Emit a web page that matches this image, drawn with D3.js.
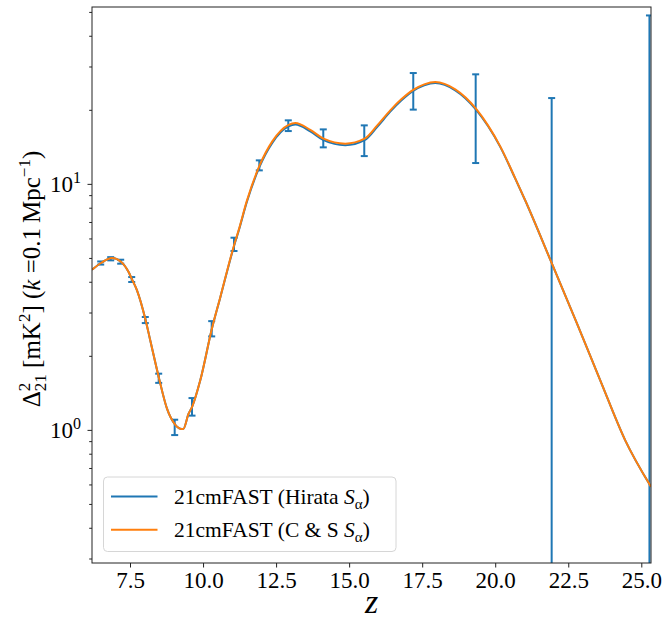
<!DOCTYPE html>
<html>
<head>
<meta charset="utf-8">
<script src="https://cdn.jsdelivr.net/npm/d3@7"></script>
<style>
body { margin: 0; background: #fff; }
text { font-family: "Liberation Serif", "Times New Roman", serif; fill: #000; }
</style>
</head>
<body>
<script>
// model power spectrum at k = 0.1 Mpc^-1, sampled in z
var curveZ = [6.199, 6.507, 6.883, 7.191, 7.452, 7.568, 7.739, 8.033, 8.194, 8.492,
              8.766, 9.039, 9.221, 9.323, 9.505, 9.632, 9.905, 10.306, 10.590, 11.069,
              11.216, 11.504, 11.935, 12.370, 12.927, 13.157, 13.670, 14.125, 14.868, 15.528,
              15.963, 16.408, 16.784, 17.205, 17.571, 17.948, 18.632, 19.341, 19.752, 20.172,
              20.686, 21.028, 21.942, 22.797, 23.595, 24.450, 25.332];
var csVals = [4.50, 4.79, 5.02, 4.85, 4.40, 4.11, 3.71, 2.81, 2.32, 1.63,
              1.225, 1.058, 1.016, 1.014, 1.169, 1.252, 1.597, 2.60, 3.48, 5.70,
              6.50, 8.61, 11.95, 14.96, 17.46, 17.76, 16.65, 15.34, 14.64, 15.34,
              17.37, 20.0, 22.16, 24.27, 25.50, 26.06, 24.33, 20.31, 17.37, 14.27,
              10.58, 8.61, 4.76, 2.72, 1.597, 0.911, 0.59];
var hirataVals = [4.50, 4.79, 5.02, 4.85, 4.40, 4.11, 3.71, 2.81, 2.32, 1.63,
              1.225, 1.058, 1.016, 1.014, 1.169, 1.252, 1.597, 2.60, 3.47, 5.66,
              6.45, 8.52, 11.80, 14.75, 17.20, 17.50, 16.42, 15.12, 14.42, 15.12,
              17.14, 19.75, 21.90, 24.02, 25.25, 25.82, 24.12, 20.15, 17.26, 14.20,
              10.55, 8.60, 4.76, 2.72, 1.597, 0.911, 0.59];

// noise error bars (Hirata)
var errZ  = [6.497, 6.839, 7.181, 7.558, 8.023, 8.482, 9.029, 9.622, 10.296, 11.059,
             11.925, 12.917, 14.115, 15.518, 17.195, 19.331, 21.932, 25.279];
var errLo = [4.72, 4.91, 4.76, 4.01, 2.73, 1.56, 0.957, 1.148, 2.41, 5.36,
             11.40, 16.47, 14.14, 13.03, 20.13, 12.21, 0.05, 0.05];
var errHi = [4.86, 5.06, 4.94, 4.20, 2.89, 1.70, 1.105, 1.353, 2.78, 6.07,
             12.52, 18.21, 16.73, 17.37, 28.35, 28.01, 22.43, 48.6];

var xTicks = [7.5, 10, 12.5, 15, 17.5, 20, 22.5, 25];
var yMajor = [1, 10];
var yMajorExp = ["0", "1"];
var yMinor = [0.3, 0.4, 0.5, 0.6, 0.7, 0.8, 0.9, 2, 3, 4, 5, 6, 7, 8, 9, 20, 30, 40, 50];

var legendNames = ["21cmFAST (Hirata ", "21cmFAST (C & S "];
var colors = ["#1f77b4", "#ff7f0e"];

var height  = 625,
    width   = 662,
    margin = {top: 7, right: 11, bottom: 62, left: 92};

width -= margin.left + margin.right;
height -= margin.top + margin.bottom;

var svg = d3.select('body').append("svg")
    .attr("width",  width + margin.left + margin.right)
    .attr("height", height + margin.top + margin.bottom)
    .append("g")
    .attr("transform", "translate(" + margin.left + "," + margin.top + ")");

var x = d3.scaleLinear().domain([6.199, 25.332]).range([0, width]);
var y = d3.scaleLog().domain([0.289, 52.6]).range([height, 0]);

svg.append("clipPath").attr("id", "plotclip")
    .append("rect").attr("width", width).attr("height", height);

var plot = svg.append("g").attr("clip-path", "url(#plotclip)");

// error bars
var bars = plot.selectAll(".ebar").data(errZ).enter().append("g").attr("class", "ebar")
    .style("stroke", colors[0]).style("stroke-width", "2px");
bars.append("line")
    .attr("x1", function(d) { return x(d); })
    .attr("x2", function(d) { return x(d); })
    .attr("y1", function(d, i) { return y(errLo[i]); })
    .attr("y2", function(d, i) { return y(errHi[i]); });
bars.append("line")
    .attr("x1", function(d) { return x(d) - 3.5; })
    .attr("x2", function(d) { return x(d) + 3.5; })
    .attr("y1", function(d, i) { return y(errHi[i]); })
    .attr("y2", function(d, i) { return y(errHi[i]); });
bars.append("line")
    .attr("x1", function(d) { return x(d) - 3.5; })
    .attr("x2", function(d) { return x(d) + 3.5; })
    .attr("y1", function(d, i) { return y(errLo[i]); })
    .attr("y2", function(d, i) { return y(errLo[i]); });

var valueline = d3.line()
    .x(function(d) { return x(d[0]); })
    .y(function(d) { return y(d[1]); })
    .curve(d3.curveMonotoneX);

[hirataVals, csVals].forEach(function(vals, k) {
    plot.append("path")
        .datum(curveZ.map(function(z, i) { return [z, vals[i]]; }))
        .attr("d", valueline)
        .style("fill", "none")
        .style("stroke", colors[k])
        .style("stroke-width", "2px");
});

// x axis
var xAxis = d3.axisBottom(x).tickValues(xTicks).tickSize(4.5).tickPadding(4)
    .tickFormat(d3.format(".1f"));
var gx = svg.append("g")
    .attr("transform", "translate(0," + height + ")")
    .call(xAxis);
gx.select(".domain").remove();
gx.selectAll("line").style("stroke", "#222");
gx.selectAll("text").style("font-size", "23px").style("font-family", "Liberation Serif");

// y ticks
svg.selectAll(".ymin").data(yMinor).enter().append("line")
    .attr("x1", -2.8).attr("x2", 0)
    .attr("y1", function(d) { return y(d); })
    .attr("y2", function(d) { return y(d); })
    .style("stroke", "#222");
svg.selectAll(".ymaj").data(yMajor).enter().append("line")
    .attr("x1", -4.5).attr("x2", 0)
    .attr("y1", function(d) { return y(d); })
    .attr("y2", function(d) { return y(d); })
    .style("stroke", "#222");
var ylab = svg.selectAll(".ylab").data(yMajor).enter().append("text")
    .attr("x", -11)
    .attr("y", function(d) { return y(d) + 8; })
    .style("text-anchor", "end")
    .style("font-size", "23px");
ylab.append("tspan").text("10");
ylab.append("tspan").attr("dy", -9).style("font-size", "16px")
    .text(function(d, i) { return yMajorExp[i]; });

// frame
svg.append("rect")
    .attr("width", width).attr("height", height)
    .style("fill", "none").style("stroke", "#222").style("stroke-width", "1px");

// axis labels
svg.append("text")
    .attr("x", width / 2)
    .attr("y", height + 50)
    .style("text-anchor", "middle")
    .style("font-size", "34px")
    .style("font-style", "italic")
    .text("z");

var yl = svg.append("text")
    .attr("transform", "translate(-52," + (height / 2 - 6) + ") rotate(-90)")
    .style("text-anchor", "middle")
    .style("font-size", "25px");
yl.append("tspan").text("\u0394");
yl.append("tspan").attr("dy", -10).style("font-size", "17px").text("2");
yl.append("tspan").attr("dx", -8.5).attr("dy", 16).style("font-size", "17px").text("21");
yl.append("tspan").attr("dy", -6).text(" [mK");
yl.append("tspan").attr("dy", -10).style("font-size", "17px").text("2");
yl.append("tspan").attr("dy", 10).text("] (");
yl.append("tspan").style("font-style", "italic").text("k");
yl.append("tspan").text(" =0.1\u2009Mpc");
yl.append("tspan").attr("dy", -10).style("font-size", "17px").text("\u22121");
yl.append("tspan").attr("dy", 10).text(")");

// legend
var lg = svg.append("g").attr("transform", "translate(11.5,470)");
lg.append("rect")
    .attr("width", 292.5).attr("height", 74.5)
    .attr("rx", 4).attr("ry", 4)
    .style("fill", "#fff").style("fill-opacity", 0.8)
    .style("stroke", "#d6d6d6").style("stroke-width", "1px");
legendNames.forEach(function(name, i) {
    var row = 19.5 + i * 33.3;
    lg.append("line")
        .attr("x1", 7.5).attr("x2", 54)
        .attr("y1", row).attr("y2", row)
        .style("stroke", colors[i]).style("stroke-width", "2px");
    var t = lg.append("text")
        .attr("x", 70.5).attr("y", row + 7)
        .style("font-size", "21.5px");
    t.append("tspan").text(name);
    t.append("tspan").style("font-style", "italic").text("S");
    t.append("tspan").attr("dy", 5).style("font-size", "15px").text("\u03b1");
    t.append("tspan").attr("dy", -5).text(")");
});
</script>
</body>
</html>
